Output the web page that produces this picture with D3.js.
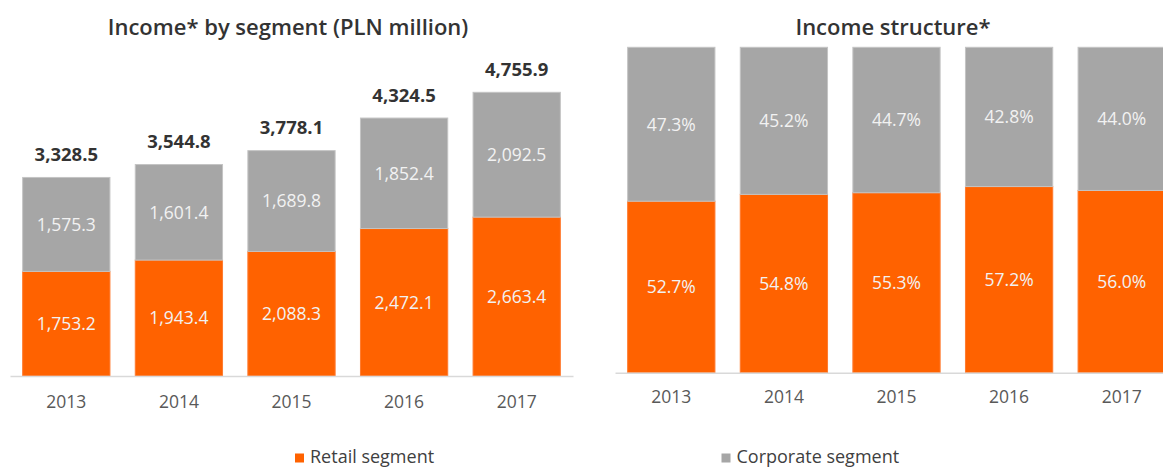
<!DOCTYPE html>
<html>
<head>
<meta charset="utf-8">
<script src="https://cdn.jsdelivr.net/npm/d3@7"></script>
<style>
  body { margin: 0; background: #fff; }
  svg { display: block; font-family: "Open Sans", "Noto Sans", sans-serif; }
</style>
</head>
<body>
<svg id="chart" width="1163" height="467"></svg>
<script>
// data
var years = ["2013", "2014", "2015", "2016", "2017"];
var retail = [1753.2, 1943.4, 2088.3, 2472.1, 2663.4];
var corporate = [1575.3, 1601.4, 1689.8, 1852.4, 2092.5];
var totals = [3328.5, 3544.8, 3778.1, 4324.5, 4755.9];
var retailShare = [52.7, 54.8, 55.3, 57.2, 56.0];
var corporateShare = [47.3, 45.2, 44.7, 42.8, 44.0];
var seriesNames = ["Retail segment", "Corporate segment"];

var ORANGE = "#ff6200", GREY = "#a6a6a6";
var fmt = d3.format(",.1f");

var svg = d3.select("#chart");

function drawPanel(opts) {
    var g = svg.append("g");
    var x = d3.scaleBand().domain(years).range(opts.xr)
        .paddingInner(0.225).paddingOuter(0.1125);
    var y = d3.scaleLinear().domain(opts.yd).range(opts.yr);

    var rows = years.map(function (yr, i) {
        return { year: yr, retail: opts.a[i], corporate: opts.b[i] };
    });
    var stack = d3.stack().keys(["retail", "corporate"])(rows);
    var fills = { retail: ORANGE, corporate: GREY };
    var edges = { retail: "#ff7a2e", corporate: "#c4c4c4" };

    var layer = g.selectAll(".layer").data(stack).enter().append("g")
        .attr("class", "layer");
    layer.selectAll("rect").data(function (d) { return d; }).enter().append("rect")
        .attr("x", function (d) { return x(d.data.year); })
        .attr("width", x.bandwidth())
        .attr("y", function (d) { return y(d[1]); })
        .attr("height", function (d) { return y(d[0]) - y(d[1]); })
        .attr("fill", function () { return fills[d3.select(this.parentNode).datum().key]; })
        .attr("stroke", function () { return edges[d3.select(this.parentNode).datum().key]; })
        .attr("stroke-width", 1);

    // inner value labels
    layer.selectAll("text").data(function (d) { return d; }).enter().append("text")
        .attr("x", function (d) { return x(d.data.year) + x.bandwidth() / 2; })
        .attr("y", function (d) { return (y(d[0]) + y(d[1])) / 2; })
        .attr("dy", "0.36em")
        .attr("text-anchor", "middle")
        .attr("font-size", 17.5)
        .attr("fill", "#f2f2f2")
        .text(function (d) { return opts.lab(d[1] - d[0]); });

    // axis
    var axis = g.append("g")
        .attr("transform", "translate(0," + opts.yr[0] + ")")
        .call(d3.axisBottom(x).tickSize(0).tickPadding(opts.pad).tickSizeOuter(0));
    axis.select(".domain").attr("stroke", "#d9d9d9").attr("stroke-width", 1.5);
    axis.selectAll("text").attr("font-size", 17.5).attr("fill", "#595959")
        .attr("font-family", "\"Open Sans\", \"Noto Sans\", sans-serif");

    g.append("text")
        .attr("x", (opts.xr[0] + opts.xr[1]) / 2 - 3.5)
        .attr("y", 35)
        .attr("text-anchor", "middle")
        .attr("font-size", 22)
        .attr("font-weight", 600)
        .attr("fill", "#333")
        .text(opts.title);

    return { g: g, x: x, y: y };
}

var left = drawPanel({
    xr: [10, 573], yd: [0, 5000], yr: [376, 77.75],
    a: retail, b: corporate, pad: 19.5,
    lab: function (v) { return fmt(v); },
    title: "Income* by segment (PLN million)"
});

left.g.selectAll(".total").data(totals).enter().append("text")
    .attr("class", "total")
    .attr("x", function (d, i) { return left.x(years[i]) + left.x.bandwidth() / 2; })
    .attr("y", function (d) { return left.y(d) - 16.5; })
    .attr("text-anchor", "middle")
    .attr("font-size", 18.5)
    .attr("font-weight", 700)
    .attr("fill", "#333")
    .text(function (d) { return fmt(d); });

drawPanel({
    xr: [615, 1178], yd: [0, 100], yr: [372.7, 47.3],
    a: retailShare, b: corporateShare, pad: 18,
    lab: function (v) { return v.toFixed(1) + "%"; },
    title: "Income structure*"
});

// legend
var legendX = [295, 721.5];
var legend = svg.selectAll(".legend").data(seriesNames).enter().append("g")
    .attr("class", "legend")
    .attr("transform", function (d, i) { return "translate(" + legendX[i] + ",0)"; });
legend.append("rect")
    .attr("y", 453.5).attr("width", 9).attr("height", 9)
    .attr("fill", function (d, i) { return i === 0 ? ORANGE : GREY; });
legend.append("text")
    .attr("x", 15).attr("y", 463)
    .attr("font-size", 18)
    .attr("fill", "#404040")
    .text(function (d) { return d; });
</script>
</body>
</html>
